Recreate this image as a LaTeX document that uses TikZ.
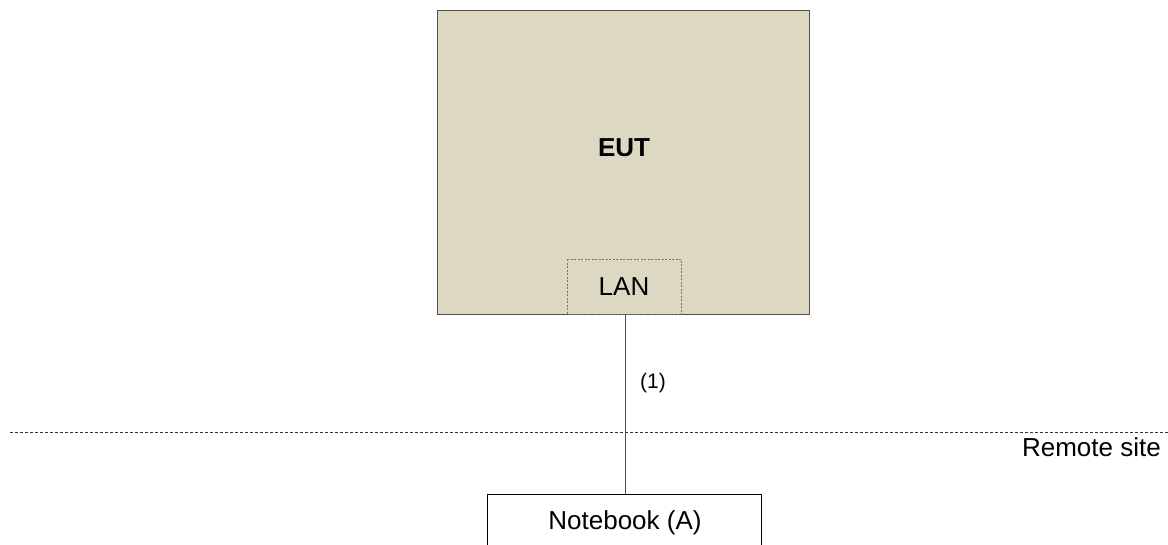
\documentclass[tikz,border=0pt]{standalone}
\usepackage{fontspec}
\setmainfont{Liberation Sans}
\definecolor{eutfill}{HTML}{DDD8C2}
\definecolor{edge}{HTML}{505050}
\tikzset{
  x=1pt, y=-1pt,
  lbl/.style={font=\fontsize{26}{30}\selectfont, inner sep=0pt, anchor=base},
  small/.style={font=\fontsize{21}{25}\selectfont, inner sep=0pt, anchor=base west},
  unitbox/.style={draw=edge, line width=1pt, fill=eutfill},
  portbox/.style={draw=edge!80, line width=0.8pt, dash pattern=on 2pt off 1.5pt, fill=eutfill},
  hostbox/.style={draw=black, line width=1pt, fill=white},
  wire/.style={draw=edge, line width=1pt},
  border/.style={draw=black!80, line width=0.9pt, dash pattern=on 3pt off 2pt},
}
\begin{document}
\begin{tikzpicture}
\useasboundingbox (0,0) rectangle (1168,544);
\clip (0,0) rectangle (1168,544);

% equipment under test with its LAN port
\draw[unitbox] (437,10) rectangle (809,314);
\node[lbl, font=\fontsize{26}{30}\selectfont\bfseries] (eut) at (624,156) {EUT};
\draw[portbox] (567,259) rectangle (681,314);
\coordinate (lan) at (625,314);
\node[lbl] (lantext) at (624,295) {LAN};

% boundary of the remote site
\coordinate (bl) at (10,432);
\coordinate (br) at (1168,432);
\draw[border] (bl) -- (br);
\node[lbl, anchor=base east] (site) at (1161,456) {Remote site};

% notebook
\draw[hostbox] (487,494) rectangle (761,560);
\coordinate (nb) at (625,494);
\node[lbl] (nbtext) at (625,529) {Notebook (A)};

% cable
\draw[wire] (lan) -- (nb);
\node[small] (c1) at (640,388) {(1)};
\end{tikzpicture}
\end{document}
